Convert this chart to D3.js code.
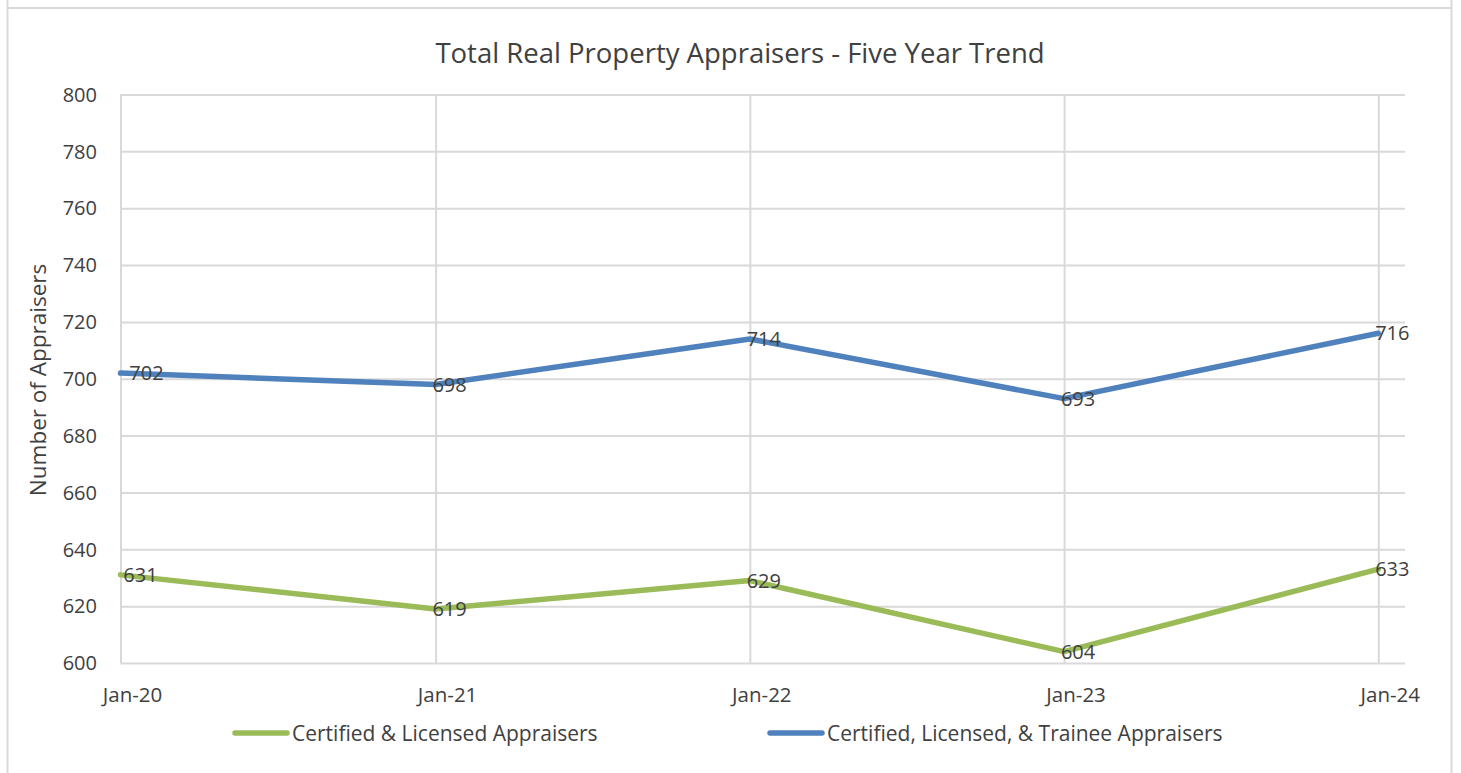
<!DOCTYPE html>
<html>
<head>
<meta charset="utf-8">
<script src="https://cdn.jsdelivr.net/npm/d3@7"></script>
<style>
  body { margin: 0; background: #fff; }
  svg { display: block; }
</style>
</head>
<body>
<div id="container"></div>
<script>
/* Données */
const dates = ["2020-01-01", "2021-01-01", "2022-01-01", "2023-01-01", "2024-01-01"];
const tickLabels = ["Jan-20", "Jan-21", "Jan-22", "Jan-23", "Jan-24"];
const licensed = [631, 619, 629, 604, 633];
const withTrainees = [702, 698, 714, 693, 716];
const seriesNames = ["Certified & Licensed Appraisers", "Certified, Licensed, & Trainee Appraisers"];
const seriesColors = ["#9bbb59", "#4f81bd"];
const yTicks = [600, 620, 640, 660, 680, 700, 720, 740, 760, 780, 800];

const width = 1461, height = 773;
const fontPolice = "'Open Sans', sans-serif";
const textColor = "#404040";

const parse = d3.timeParse("%Y-%m-%d");

const svg = d3.select("#container").append("svg")
  .attr("width", width)
  .attr("height", height);

/* Cadre du graphique */
svg.append("line").attr("x1", 7.5).attr("x2", 7.5).attr("y1", 0).attr("y2", height)
  .style("stroke", "#d9d9d9").style("stroke-width", 2);
svg.append("line").attr("x1", 1451.5).attr("x2", 1451.5).attr("y1", 0).attr("y2", height)
  .style("stroke", "#d9d9d9").style("stroke-width", 2);
svg.append("line").attr("x1", 7).attr("x2", 1451).attr("y1", 8).attr("y2", 8)
  .style("stroke", "#d9d9d9").style("stroke-width", 2);

/* Echelles */
const x = d3.scaleTime()
  .domain([parse(dates[0]), parse("2024-02-01")])
  .range([120.5, 1405]);
const y = d3.scaleLinear()
  .domain([600, 800])
  .range([663, 94.5]);

const plot = svg.append("g");

/* Grille horizontale */
plot.append("g")
  .call(d3.axisLeft(y).tickValues(yTicks).tickSize(-(1405 - 120.5)).tickFormat(""))
  .attr("transform", "translate(120.5,0)")
  .call(g => g.select(".domain").remove())
  .call(g => g.selectAll("line").style("stroke", "#d9d9d9").style("stroke-width", 2));

/* Grille verticale */
plot.append("g")
  .attr("transform", "translate(0,663)")
  .call(d3.axisBottom(x).tickValues(dates.map(parse)).tickSize(-(663 - 94.5)).tickFormat(""))
  .call(g => g.select(".domain").remove())
  .call(g => g.selectAll("line").style("stroke", "#d9d9d9").style("stroke-width", 2));

/* Libellés de l'axe Y */
plot.append("g").selectAll("text")
  .data(yTicks)
  .enter().append("text")
    .attr("x", 97)
    .attr("y", d => y(d))
    .attr("dy", "0.36em")
    .style("text-anchor", "end")
    .style("font-family", fontPolice)
    .style("font-size", "20px")
    .style("fill", textColor)
    .text(d => d);

/* Libellés de l'axe X */
plot.append("g").selectAll("text")
  .data(dates)
  .enter().append("text")
    .attr("x", d => x(parse(d)) + 12)
    .attr("y", 702)
    .style("text-anchor", "middle")
    .style("font-family", fontPolice)
    .style("font-size", "20.5px")
    .style("fill", textColor)
    .text((d, i) => tickLabels[i]);

/* Titre */
svg.append("text")
  .attr("x", 740)
  .attr("y", 63)
  .style("text-anchor", "middle")
  .style("font-family", fontPolice)
  .style("font-size", "27.5px")
  .style("fill", textColor)
  .text("Total Real Property Appraisers - Five Year Trend");

/* Titre de l'axe Y */
svg.append("text")
  .attr("transform", "translate(46,380) rotate(-90)")
  .style("text-anchor", "middle")
  .style("font-family", fontPolice)
  .style("font-size", "22.5px")
  .style("fill", textColor)
  .text("Number of Appraisers");

/* Courbes */
const line = d3.line()
  .x((d, i) => x(parse(dates[i])))
  .y(d => y(d));

[licensed, withTrainees].forEach((values, s) => {
  plot.append("path")
    .datum(values)
    .attr("d", line)
    .style("fill", "none")
    .style("stroke", seriesColors[s])
    .style("stroke-width", 5.5)
    .style("stroke-linejoin", "round")
    .style("stroke-linecap", "round");
});

/* Etiquettes des valeurs */
[licensed, withTrainees].forEach((values, s) => {
  plot.append("g").selectAll("text")
    .data(values)
    .enter().append("text")
      .attr("x", (d, i) => x(parse(dates[i])) + (i == 0 ? (s == 1 ? 26 : 20) : 14))
      .attr("y", d => y(d))
      .attr("dy", "0.36em")
      .style("text-anchor", "middle")
      .style("font-family", fontPolice)
      .style("font-size", "20px")
      .style("fill", textColor)
      .text(d => d);
});

/* Légende */
const legendX = [233, 768];
const legend = svg.append("g");
seriesNames.forEach((name, s) => {
  legend.append("line")
    .attr("x1", legendX[s] + 2).attr("x2", legendX[s] + 54)
    .attr("y1", 733).attr("y2", 733)
    .style("stroke", seriesColors[s])
    .style("stroke-width", 5.5)
    .style("stroke-linecap", "round");
  legend.append("text")
    .attr("x", legendX[s] + 59)
    .attr("y", 733)
    .attr("dy", "0.36em")
    .style("font-family", fontPolice)
    .style("font-size", "21px")
    .style("fill", textColor)
    .text(name);
});
</script>
</body>
</html>
